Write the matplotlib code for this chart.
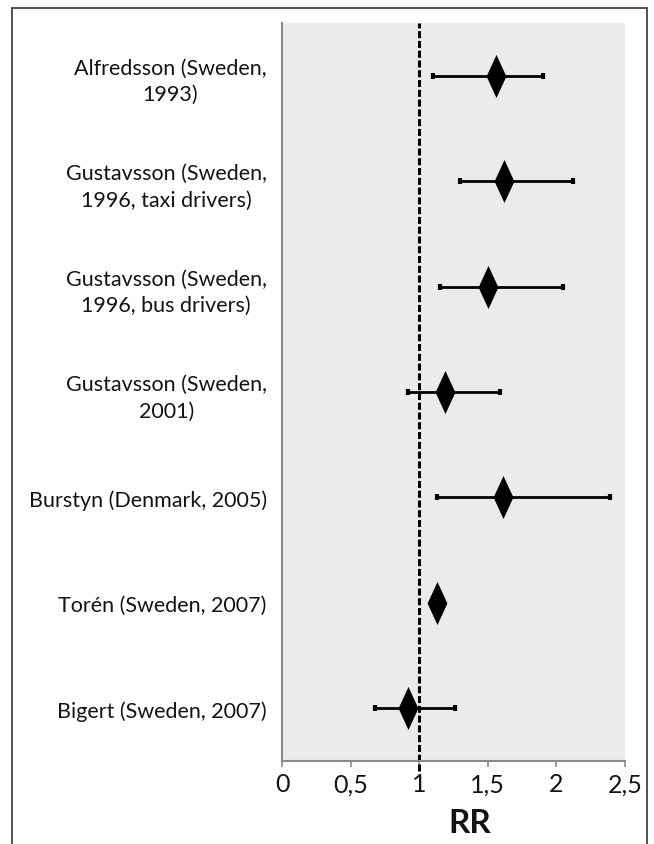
import matplotlib
matplotlib.use("Agg")
import matplotlib.pyplot as plt
from matplotlib.path import Path
from matplotlib.patches import Rectangle

# ── DATOS ───────────────────────────────────────
studies = [
    "Alfredsson (Sweden,\n1993)",
    "Gustavsson (Sweden,\n1996, taxi drivers)",
    "Gustavsson (Sweden,\n1996, bus drivers)",
    "Gustavsson (Sweden,\n2001)",
    "Burstyn (Denmark, 2005)",
    "Torén (Sweden, 2007)",
    "Bigert (Sweden, 2007)",
]
rr      = [1.56, 1.62, 1.50, 1.19, 1.61, 1.13, 0.92]
ci_low  = [1.10, 1.30, 1.15, 0.92, 1.13, 1.09, 0.68]
ci_high = [1.90, 2.12, 2.05, 1.59, 2.39, 1.17, 1.26]
x_ticks  = [0, 0.5, 1, 1.5, 2, 2.5]
x_labels = ["0", "0,5", "1", "1,5", "2", "2,5"]

# ── ESTILO ──────────────────────────────────────
BG_COLOR    = "#ebebeb"
SPINE_COLOR = "#8a8a8a"
TEXT_COLOR  = "#141414"
FONT        = ["Lato", "DejaVu Sans"]

plt.rcParams["font.family"] = FONT

W, H = 654, 845
fig = plt.figure(figsize=(W / 100, H / 100), dpi=100)
fig.patch.set_facecolor("white")

# marco exterior (abierto por abajo)
fig.patches.append(Rectangle((12 / W, -0.05), 635 / W, (H - 9) / H + 0.05,
                             transform=fig.transFigure, fill=False,
                             edgecolor="#444444", linewidth=1.3, clip_on=False))

ax = fig.add_axes([282 / W, (H - 762) / H, 343 / W, 738 / H])
ax.set_facecolor(BG_COLOR)

ypos = list(range(len(studies)))
err_lo = [r - lo for r, lo in zip(rr, ci_low)]
err_hi = [hi - r for r, hi in zip(rr, ci_high)]

diamond = Path([(0, 1), (0.46, 0), (0, -1), (-0.46, 0), (0, 1)],
               [Path.MOVETO, Path.LINETO, Path.LINETO, Path.LINETO, Path.CLOSEPOLY])

ax.errorbar(rr, ypos, xerr=[err_lo, err_hi], fmt="none", ecolor="black",
            elinewidth=2.0, capsize=2.2, capthick=3.0, zorder=3)
ax.scatter(rr, ypos, marker=diamond, s=31 ** 2, color="black", zorder=4,
           linewidths=0)

ax.axvline(1, ymin=-0.014, ymax=1, color="black", linewidth=2.2,
           dashes=(2.3, 0.9), clip_on=False, zorder=2)

ax.set_xlim(0, 2.5)
ax.set_ylim(len(studies) - 0.5, -0.5)

ax.set_xticks(x_ticks)
ax.set_xticklabels(x_labels, fontsize=18, color=TEXT_COLOR)
ax.set_yticks(ypos)
ax.set_yticklabels(studies, fontsize=15.5, color=TEXT_COLOR, linespacing=1.4)
for lab in ax.get_yticklabels():
    lab.set_multialignment("center")

ax.tick_params(axis="y", length=0, pad=11)
ax.tick_params(axis="x", length=4, width=1.2, color=SPINE_COLOR, pad=4)

for side in ("top", "right"):
    ax.spines[side].set_visible(False)
for side in ("left", "bottom"):
    ax.spines[side].set_color(SPINE_COLOR)
    ax.spines[side].set_linewidth(1.5)

ax.set_xlabel("RR", fontsize=24, fontweight="bold", color=TEXT_COLOR)
ax.xaxis.set_label_coords(0.548, -0.064)

fig.savefig("out.png", dpi=100, facecolor="white")
